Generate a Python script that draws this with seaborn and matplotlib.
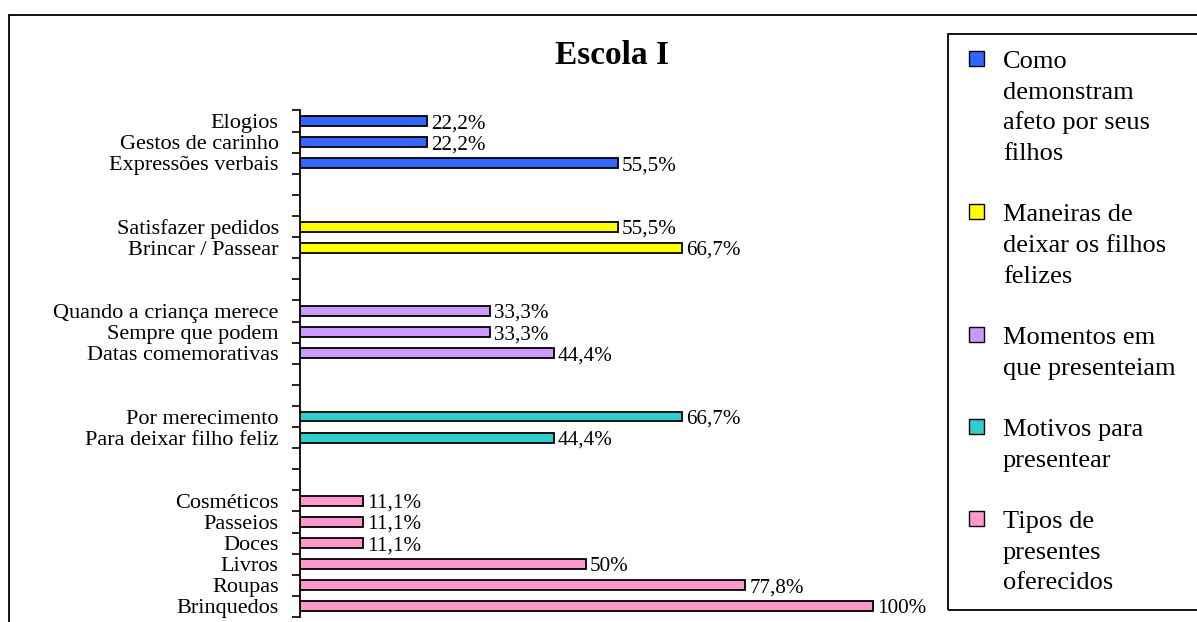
import numpy as np
import pandas as pd
import matplotlib
matplotlib.use("Agg")
import matplotlib.pyplot as plt
from matplotlib.patches import Rectangle
import seaborn as sns

# ---- data -------------------------------------------------------------
title = "Escola I"

groups = [
    "Como demonstram afeto por seus filhos",
    "Maneiras de deixar os filhos felizes",
    "Momentos em que presenteiam",
    "Motivos para presentear",
    "Tipos de presentes oferecidos",
]
legend_lines = [
    ["Como", "demonstram", "afeto por seus", "filhos"],
    ["Maneiras de", "deixar os filhos", "felizes"],
    ["Momentos em", "que presenteiam"],
    ["Motivos para", "presentear"],
    ["Tipos de", "presentes", "oferecidos"],
]
colors = ["#3366FF", "#FFFF00", "#CC99FF", "#33CCCC", "#FF99CC"]

afeto_items = ["Elogios", "Gestos de carinho", "Expressões verbais"]
afeto_pct = [22.2, 22.2, 55.5]

felizes_items = ["Satisfazer pedidos", "Brincar / Passear"]
felizes_pct = [55.5, 66.7]

momentos_items = ["Quando a criança merece", "Sempre que podem", "Datas comemorativas"]
momentos_pct = [33.3, 33.3, 44.4]

motivos_items = ["Por merecimento", "Para deixar filho feliz"]
motivos_pct = [66.7, 44.4]

tipos_items = ["Cosméticos", "Passeios", "Doces", "Livros", "Roupas", "Brinquedos"]
tipos_pct = [11.1, 11.1, 11.1, 50, 77.8, 100]

group_items = [afeto_items, felizes_items, momentos_items, motivos_items, tipos_items]
group_pct = [afeto_pct, felizes_pct, momentos_pct, motivos_pct, tipos_pct]

# ---- table + category slots (two empty slots between groups) ----------
rows = []
slots = []
gap_id = 0
for gi, (name, items, vals) in enumerate(zip(groups, group_items, group_pct)):
    if gi > 0:
        for _ in range(2):
            gap_id += 1
            slots.append(" " * gap_id)
    for it, v in zip(items, vals):
        rows.append({"item": it, "pct": v, "grupo": name})
        slots.append(it)
df = pd.DataFrame(rows)

# ---- figure -----------------------------------------------------------
W, H = 1197, 622
sns.set_style("white")
plt.rcParams["font.family"] = ["Liberation Serif", "DejaVu Serif"]

fig = plt.figure(figsize=(W / 100, H / 100), dpi=100)

def fx(px):
    return px / W

def fy(py):
    return 1 - py / H

ax_top, ax_bot = 110.5, 617
ax_left = 299.5
xmax = 110
px_per_unit = 5.73
ax = fig.add_axes([fx(ax_left), fy(ax_bot), xmax * px_per_unit / W, (ax_bot - ax_top) / H])

sns.barplot(
    data=df, x="pct", y="item", hue="grupo", order=slots, hue_order=groups,
    palette=colors, dodge=False, width=0.47, saturation=1, errorbar=None,
    edgecolor="black", linewidth=1.3, legend=False, orient="h", ax=ax,
)

ax.set_xlim(0, xmax)
ax.set_ylim(len(slots) - 0.5, -0.5)
ax.set_xlabel("")
ax.set_ylabel("")
ax.set_xticks([])

# boundary ticks between categories, labels centred in each slot
ax.set_yticks(np.arange(len(slots) + 1) - 0.5, labels=[""] * (len(slots) + 1))
ax.set_yticks(np.arange(len(slots)), labels=[s.strip() for s in slots], minor=True)
ax.tick_params(axis="y", which="major", left=True, length=6, width=1.2,
               color="black", direction="out")
ax.tick_params(axis="y", which="minor", left=False, length=0, pad=15,
               labelsize=16, labelcolor="black")

for side in ["top", "right", "bottom"]:
    ax.spines[side].set_visible(False)
ax.spines["left"].set_color("black")
ax.spines["left"].set_linewidth(1.3)
ax.set_facecolor("none")

# value labels
def fmt(v):
    return f"{v:g}".replace(".", ",") + "%"

for it, v in zip(df["item"], df["pct"]):
    ax.annotate(fmt(v), xy=(v, slots.index(it)), xytext=(3, 0),
                textcoords="offset points", va="center_baseline", ha="left",
                fontsize=15.2, color="black")

# title
fig.text(fx(612), fy(55), title, ha="center", va="center",
         fontsize=24, fontweight="bold", color="black")

# outer chart frame
fig.patches.append(Rectangle((fx(9), fy(H + 20)), 1.2, (H + 20 - 15) / H,
                             transform=fig.transFigure, fill=False,
                             edgecolor="black", linewidth=1.3))

# legend box
fig.patches.append(Rectangle((fx(948), fy(610)), 0.5, (610 - 34) / H,
                             transform=fig.transFigure, fill=False,
                             edgecolor="black", linewidth=1.3))

line_step = 30.67
baseline = 68.0
for color, lines in zip(colors, legend_lines):
    fig.patches.append(Rectangle((fx(969), fy(baseline - 2)), 15 / W, 15 / H,
                                 transform=fig.transFigure, facecolor=color,
                                 edgecolor="black", linewidth=1.0))
    for k, ln in enumerate(lines):
        fig.text(fx(1003), fy(baseline + k * line_step), ln, ha="left",
                 va="baseline", fontsize=19, color="black")
    baseline += (len(lines) + 1) * line_step

fig.savefig("out.png", dpi=100, facecolor="white")
